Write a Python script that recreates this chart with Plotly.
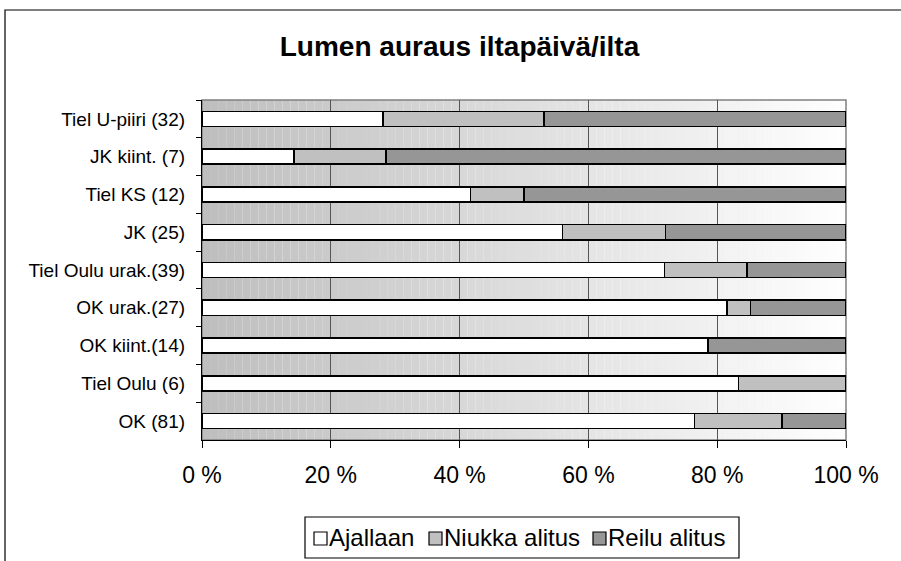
import plotly.graph_objects as go

# Categories, top to bottom
categories = [
    "Tiel U-piiri (32)",
    "JK kiint. (7)",
    "Tiel KS (12)",
    "JK (25)",
    "Tiel Oulu urak.(39)",
    "OK urak.(27)",
    "OK kiint.(14)",
    "Tiel Oulu (6)",
    "OK (81)",
]

# Shares in percent for each category
ajallaan = [28.1, 14.3, 41.7, 56.0, 71.8, 81.5, 78.6, 83.3, 76.5]
niukka_alitus = [25.0, 14.3, 8.3, 16.0, 12.8, 3.7, 0.0, 16.7, 13.6]
reilu_alitus = [46.9, 71.4, 50.0, 28.0, 15.4, 14.8, 21.4, 0.0, 9.9]

series_names = ["Ajallaan", "Niukka alitus", "Reilu alitus"]
series_values = [ajallaan, niukka_alitus, reilu_alitus]
series_colors = ["#FFFFFF", "#C0C0C0", "#969696"]

x_ticks = [0, 20, 40, 60, 80, 100]

W, H = 901, 561
L, R, T, B = 202, 55, 100, 121
FONT = "Liberation Sans, Arial, sans-serif"


def px_x(px):
    """Pixel column -> paper x."""
    return (px - L) / (W - L - R)


def px_y(py):
    """Pixel row -> paper y."""
    return (H - B - py) / (H - T - B)


fig = go.Figure()
for name, vals, col in zip(series_names, series_values, series_colors):
    fig.add_trace(go.Bar(
        y=categories, x=vals, name=name, orientation="h",
        marker=dict(color=col, line=dict(color="#000000", width=1.6)),
        hoverinfo="x+y+name", showlegend=False,
    ))

# Horizontal grey-to-white gradient behind the plot area
shapes = []
steps = 80
c0, c1 = 190, 254
for i in range(steps):
    t = i / (steps - 1)
    g = round(c0 + (c1 - c0) * t)
    shapes.append(dict(
        type="rect", xref="x", yref="y domain",
        x0=100 * i / steps, x1=100 * (i + 1) / steps, y0=0, y1=1,
        fillcolor=f"rgb({g},{g},{g})", line=dict(width=0), layer="below",
    ))
# Plot area frame
shapes.append(dict(
    type="rect", xref="x domain", yref="y domain", x0=0, x1=1, y0=0, y1=1,
    line=dict(color="#808080", width=1.5), fillcolor="rgba(0,0,0,0)", layer="below",
))
# Chart area frame (runs off the right and bottom edges)
shapes.append(dict(
    type="rect", xref="paper", yref="paper",
    x0=px_x(5), x1=px_x(W + 20), y0=px_y(H + 20), y1=px_y(10),
    line=dict(color="#000000", width=1.2), fillcolor="rgba(0,0,0,0)", layer="above",
))

# Legend box with swatches placed right before each label
legend_box = (305, 517, 739, 558)
shapes.append(dict(
    type="rect", xref="paper", yref="paper",
    x0=px_x(legend_box[0]), x1=px_x(legend_box[2]),
    y0=px_y(legend_box[3]), y1=px_y(legend_box[1]),
    line=dict(color="#000000", width=1.2), fillcolor="#FFFFFF", layer="above",
))
swatch_left = [314, 429, 593]
swatch_size = 13
legend_mid = 537.5
annotations = []
for name, col, sx in zip(series_names, series_colors, swatch_left):
    shapes.append(dict(
        type="rect", xref="paper", yref="paper",
        x0=px_x(sx), x1=px_x(sx + swatch_size),
        y0=px_y(legend_mid + swatch_size / 2 + 1), y1=px_y(legend_mid - swatch_size / 2 + 1),
        line=dict(color="#000000", width=1.2), fillcolor=col, layer="above",
    ))
    annotations.append(dict(
        text=name, xref="paper", yref="paper",
        x=px_x(sx + swatch_size + 1), y=px_y(legend_mid),
        xanchor="left", yanchor="middle", showarrow=False, borderpad=0,
        font=dict(family=FONT, size=24, color="#000000"),
    ))

fig.update_layout(
    width=W, height=H,
    margin=dict(l=L, r=R, t=T, b=B, pad=0),
    paper_bgcolor="#FFFFFF", plot_bgcolor="rgba(0,0,0,0)",
    barmode="stack", bargap=0.6,
    font=dict(family=FONT, color="#000000"),
    title=dict(
        text="<b>Lumen auraus iltapäivä/ilta</b>",
        font=dict(family=FONT, size=28, color="#000000"),
        x=459.5 / W, xanchor="center", xref="container",
        y=1 - 46 / H, yanchor="middle", yref="container",
    ),
    xaxis=dict(
        range=[0, 100], tickvals=x_ticks, ticktext=[f"{v} %" for v in x_ticks],
        ticks="outside", ticklen=7, tickcolor="#000000", tickwidth=1.2,
        showline=True, linecolor="#000000", linewidth=1.2,
        showgrid=True, gridcolor="#555555", gridwidth=1,
        zeroline=False, tickfont=dict(size=23, family=FONT),
        ticklabelstandoff=7, fixedrange=True,
    ),
    yaxis=dict(
        categoryorder="array", categoryarray=categories, autorange="reversed",
        ticks="outside", ticklen=5, tickcolor="#000000", tickwidth=1.2,
        tickson="boundaries",
        showline=True, linecolor="#000000", linewidth=1.2,
        showgrid=False, zeroline=False,
        tickfont=dict(size=19, family=FONT), ticklabelstandoff=12,
        fixedrange=True,
    ),
    shapes=shapes,
    annotations=annotations,
    showlegend=False,
)

fig.write_html("out.html")
